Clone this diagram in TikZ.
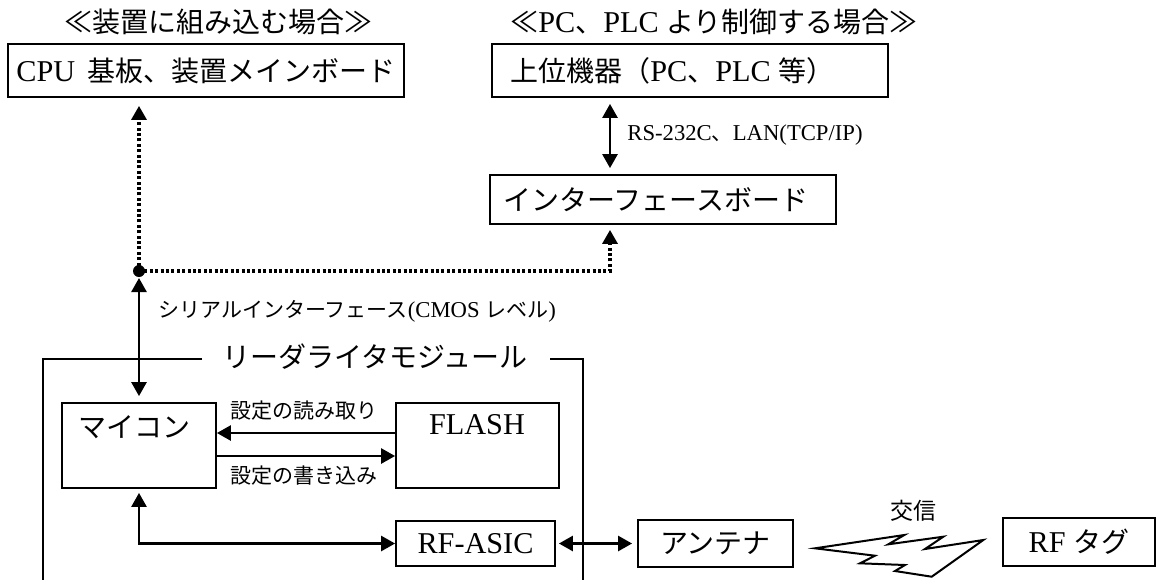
\documentclass[tikz,border=0pt]{standalone}
\usepackage{fontspec}
\setmainfont[Scale=1.08]{Liberation Serif}
\newfontfamily\jpfont{Noto Sans CJK JP}
\newcommand{\J}[1]{{\jpfont #1}}
\usetikzlibrary{arrows.meta}
\begin{document}
\begin{tikzpicture}[x=0.5pt,y=-0.5pt,
  box/.style={draw, line width=0.9pt, inner sep=0pt},
  big/.style={font=\fontsize{14pt}{16pt}\selectfont, inner sep=0pt},
  sml/.style={font=\fontsize{10.5pt}{12pt}\selectfont, inner sep=0pt},
  conn/.style={line width=1.3pt},
  frame/.style={line width=0.9pt},
  dotline/.style={line width=1.6pt, dash pattern=on 1.5pt off 1.2pt},
  tip/.style={-{Triangle[length=7pt,width=7.5pt]}},
  dtip/.style={{Triangle[length=7pt,width=7.5pt]}-{Triangle[length=7pt,width=7.5pt]}}]
\useasboundingbox (0,0) rectangle (1162,580);

% titles
\node[big] (t1) at (218,22) {\J{≪装置に組み込む場合≫}};
\node[big, anchor=west] (t2) at (510,22) {\J{≪}PC\J{、}PLC \J{より制御する場合≫}};

% upper boxes
\node[box, minimum width=198pt, minimum height=26.5pt] (cpu) at (206,70.5) {};
\node[big, anchor=west] (cpuT) at (16,71) {CPU\hspace{6pt}\J{基板、装置メインボード}};
\node[box, minimum width=198pt, minimum height=26.5pt] (host) at (690,70.5) {};
\node[big, anchor=west] (hostT) at (510,71) {\J{上位機器（}PC\J{、}PLC \J{等）}};
\node[box, minimum width=173pt, minimum height=24.5pt] (ifb) at (663,199.5) {};
\node[big, anchor=west] (ifbT) at (503,200) {\J{インターフェースボード}};

\node[sml, anchor=west] (rs) at (627,135) {RS-232C\J{、}LAN(TCP/IP)};

% junction
\node[circle, fill, inner sep=0pt, minimum size=6pt] (jn) at (139,271) {};
\coordinate (c1) at (610,271);

\node[sml, anchor=west] (ser) at (158,311) {\J{シリアルインターフェース}(CMOS \J{レベル})};

% module frame
\node[big] (modT) at (375,357) {\J{リーダライタモジュール}};
\draw[frame] (202,359) -- (43,359) -- (43,580);
\draw[frame] (550,359) -- (583,359) -- (583,580);

% module contents
\node[box, minimum width=77pt, minimum height=42.5pt] (mc) at (139,445.5) {};
\node[big] (mcT) at (134,427) {\J{マイコン}};
\node[box, minimum width=81.5pt, minimum height=42.5pt] (fl) at (477.5,445.5) {};
\node[big] (flT) at (477,425) {FLASH};
\node[box, big, minimum width=79.5pt, minimum height=22.5pt] (asic) at (475.5,543.5) {RF-ASIC};
\node[box, big, minimum width=77.5pt, minimum height=23.5pt] (ant) at (715.5,543.5) {\J{アンテナ}};
\node[box, big, minimum width=76pt, minimum height=24pt] (tag) at (1079,542) {RF \J{タグ}};

\node[sml, anchor=west] (rd) at (230,411) {\J{設定の読み取り}};
\node[sml, anchor=west] (wr) at (230,476) {\J{設定の書き込み}};
\node[font=\fontsize{11.5pt}{13pt}\selectfont, inner sep=0pt] (kou) at (913,511) {\J{交信}};

% connectors
\draw[dotline, tip, shorten >=4pt] (jn.center) -- (jn |- cpu.south);
\draw[dotline, tip, shorten >=2.5pt] (jn.center) -- (c1) -- (c1 |- ifb.south);
\draw[conn, dtip, shorten <=3pt, shorten >=3pt] (c1 |- host.south) -- (c1 |- ifb.north);
\draw[conn, dtip, shorten <=3.5pt, shorten >=3pt] (jn.center) -- (mc.north);
\draw[conn, tip] ([yshift=6.25pt]fl.west) -- ([yshift=6.25pt]mc.east);
\draw[conn, tip] ([yshift=-5.25pt]mc.east) -- ([yshift=-5.25pt]fl.west);
\draw[conn, dtip, shorten <=2pt] (mc.south) -- (mc.south |- asic.west) -- (asic.west);
\draw[conn, dtip, shorten <=1.5pt, shorten >=2.5pt] (asic.east) -- (ant.west);

% lightning
\draw[line width=1pt, line join=miter] (815,548.3) -- (904.3,535) -- (888.3,544.3)
  -- (943.3,536.7) -- (925,549) -- (983.3,540) -- (931.7,576.7) -- (895,571)
  -- (905,565) -- (860,563.3) -- (875,555.7) -- cycle;
\end{tikzpicture}
\end{document}
